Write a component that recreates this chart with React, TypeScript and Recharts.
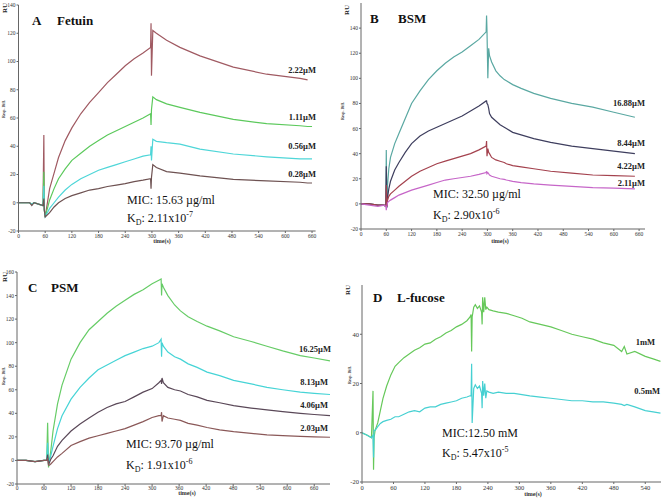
import React from 'react';
import { LineChart, Line, XAxis, YAxis } from 'recharts';

// ---------------- Panel A : Fetuin ----------------
const timeA = [0, 25, 30, 35, 55, 57, 58, 60, 70, 80, 90, 105, 120, 140, 160, 180, 200, 220, 240, 260, 280, 297, 298, 299, 302, 310, 333, 363, 408, 483, 558, 633, 650, 660];
const fetuin222 = [0, 0, -1, 0, -2, 48, -5, -10, 10, 21, 32, 44, 53, 63, 71, 78, 85, 91, 97, 102, 106, 110, 127, 90, 122, 120, 115, 110, 104, 96, 91, 88, 87, null];
const fetuin111 = [0, 0, -1, 0, -2, 22, -5, -10, 2, 10, 17, 24, 30, 35, 40, 44, 48, 51, 54, 57, 60, 63, 55, 66, 75, 73, 70, 67.5, 64, 59, 56, 54.5, 54, 54];
const fetuin056 = [0, 0, -1, 0, -2, 12, -5, -10, -4, 0, 4, 9, 13, 17, 20, 23, 25, 27, 29, 31, 33, 34, 40, 30, 45, 43.5, 42.5, 41.5, 38, 34.5, 32.5, 31, 31, 31];
const fetuin028 = [0, 0, -2, 0, -2, 3, -5, -10, -7, -3, 0, 3, 5, 7, 9, 10, 11.5, 12.5, 13.5, 15, 16, 17, 10, 18, 27, 25, 22, 21, 19, 16.5, 15.5, 14.5, 14, 14];
const labelsA = ['2.22\u00b5M', '1.11\u00b5M', '0.56\u00b5M', '0.28\u00b5M'];

// ---------------- Panel B : BSM ----------------
const timeB = [0, 20, 40, 55, 59, 60, 61, 62, 63, 66, 70, 80, 90, 105, 120, 140, 160, 180, 200, 220, 240, 260, 280, 297, 298, 299, 301, 303, 305, 310, 320, 330, 340, 345, 360, 380, 410, 450, 500, 550, 600, 650];
const bsm1688 = [0, 0, -1, -1, -2, 43, 10, -3, 15, 28, 37, 48, 56, 68, 80, 90, 99, 106, 112, 117, 121, 126, 131, 137, 150, 138, 100, 124, 118, 113, 106, 102, 99, 98, 95, 92, 88, 84, 80, 77, 73, 69];
const bsm844 = [0, 0, -1, -1, -2, 30, 5, -2, 5, 12, 18, 27, 33, 41, 48, 54, 58, 61, 64, 67, 70, 74, 78, 82, 82, 80, 79, 76, 72, 69, 66, 63, 61, 60, 57, 55, 52, 49, 46, 44, 42, 40];
const bsm422 = [0, 0, -1, -1, -2, 15, 2, -2, 3, 6, 8, 11, 14, 18, 22, 26, 29, 32, 34, 36, 38, 40, 43, 46, 50, 38, 44, 41, 40, 37, 35, 34, 33, 32, 30.5, 29.5, 28, 26, 24.5, 23, 22.5, 22];
const bsm211 = [0, -1, -2, -1, -2, -5, -2, -1, 1, 2, 3, 5, 7, 9, 11, 13, 15, 17, 19, 20, 21, 22, 23.5, 25, 26, 24, 25, 24, 23, 22, 21, 20, 19.5, 19, 18, 17, 16, 15, 14, 13, 12.5, 12];
const labelsB = ['16.88\u00b5M', '8.44\u00b5M', '4.22\u00b5M', '2.11\u00b5M'];

// ---------------- Panel C : PSM ----------------
const timeC = [0, 20, 40, 60, 66, 68, 70, 72, 75, 80, 90, 100, 120, 140, 160, 180, 200, 220, 240, 260, 280, 300, 315, 320, 321, 322, 325, 335, 350, 363, 380, 400, 422, 450, 481, 520, 555, 590, 629, 660, 695];
const psm1625 = [0, 0, -1, 0, 0, 32, -6, 0, 8, 25, 48, 64, 86, 100, 111, 118, 125, 131, 136, 141, 145, 150, 153, 154, 140, 150, 147, 140, 132, 127, 122, 118, 114, 110, 105, 101, 97, 93, 89, 87, 84.5];
const psm813 = [0, 0, -1, 0, 0, 15, -4, 0, 4, 12, 27, 38, 52, 62, 70, 77, 81, 85, 89, 92, 95, 97, 100, 103, 88, 100, 97, 92, 88, 86, 82, 79, 75, 72, 68, 65, 62, 60, 58, 57, 56];
const psm406 = [0, 0, -1, 0, 0, 5, -3, -2, 1, 4, 12, 17, 25, 31, 36, 41, 45, 48, 50, 54, 58, 61, 66, 68, 65, 70, 66, 62, 60, 59, 56, 54, 51, 49, 46.5, 44.5, 43, 41.5, 40, 39, 38];
const psm203 = [0, 0, -1, 0, 0, 2, -4, -4, -3, -1, 3, 6, 12.7, 16, 19, 21, 23, 25, 27, 30, 33, 36.5, 38, 38, 41, 33, 38, 36, 35, 34, 31.5, 30, 28, 26, 24.5, 23, 21.7, 21, 20.5, 20, 19.7];
const labelsC = ['16.25\u00b5M', '8.13\u00b5M', '4.06\u00b5M', '2.03\u00b5M'];

// ---------------- Panel D : L-fucose ----------------
const timeD = [0, 10, 18, 21, 22, 23, 25, 30, 35, 40, 47, 55, 63, 70, 80, 90, 100, 110, 120, 130, 140, 150, 160, 170, 180, 190, 200, 206, 208, 209, 210, 213, 216, 220, 224, 228, 229, 230, 232, 234, 236, 238, 242, 250, 260, 275, 290, 305, 320, 340, 360, 380, 400, 420, 440, 460, 480, 495, 500, 505, 520, 540, 555, 569];
const fucose1 = [0, -1, -2, 17, -15, -2, 1, 4, 9, 14, 19, 23.5, 27, 28.5, 30.5, 32, 33.5, 34.5, 36, 36.5, 38, 39, 40.5, 41.5, 43, 44, 45.5, 47, 48, 33, 47, 51, 52, 50.5, 51.5, 49, 44, 55, 49, 55, 50, 51, 50, 49.5, 49, 48.5, 47.5, 46.5, 45, 44, 43, 41.5, 40, 39, 38, 36.5, 35.5, 33, 35, 32, 33, 31, 30, 29];
const fucose05 = [0, -1, -2, -1, -10, 1, 1, 2.5, 3.8, 4.5, 5, 5.5, 6.5, 6.5, 7.5, 8.5, 9, 8.5, 10, 10.5, 10.5, 11.5, 12, 12.5, 13, 14, 14.5, 15, 15, 28, 4, 18, 19.5, 18, 19, 16, 10, 21, 15, 20, 14, 17, 16.5, 16, 16.5, 16, 16, 15.5, 15, 14.5, 14, 13.5, 13, 13, 12.5, 12.5, 12, 11.5, 11, 11.5, 10.5, 9, 8.5, 8];
const labelsD = ['1mM', '0.5mM'];

const ticks60 = [0, 60, 120, 180, 240, 300, 360, 420, 480, 540, 600, 660];
const ticksD_x = [0, 60, 120, 180, 240, 300, 360, 420, 480, 540];
const ticksA_y = [-20, 0, 20, 40, 60, 80, 100, 120, 140];
const ticksC_y = [-20, 0, 20, 40, 60, 80, 100, 120, 140, 160];
const ticksD_y = [-20, 0, 20, 40];

const FONT = '"Liberation Serif", "DejaVu Serif", serif';

type SeriesDef = { key: string; values: (number | null)[]; color: string };

function rows(time: number[], series: SeriesDef[]) {
  return time.map((t, i) => {
    const r: Record<string, number | null> = { t };
    series.forEach((s) => {
      r[s.key] = s.values[i];
    });
    return r;
  });
}

type PanelProps = {
  left: number;
  top: number;
  width: number;
  height: number;
  margin: { top: number; right: number; bottom: number; left: number };
  yWidth: number;
  xHeight: number;
  xDomain: [number, number];
  xTicks: number[];
  yDomain: [number, number];
  yTicks: number[];
  time: number[];
  series: SeriesDef[];
  fontSize: number;
  xTickMargin: number;
};

function Panel(p: PanelProps) {
  const data = rows(p.time, p.series);
  const tickStyle = { fontSize: p.fontSize, fill: '#333', fontFamily: FONT };
  return (
    <div style={{ position: 'absolute', left: p.left, top: p.top }}>
      <LineChart width={p.width} height={p.height} data={data} margin={p.margin}>
        <XAxis
          dataKey="t"
          type="number"
          domain={p.xDomain}
          allowDataOverflow
          ticks={p.xTicks}
          height={p.xHeight}
          tick={tickStyle}
          tickSize={2}
          tickMargin={p.xTickMargin}
          stroke="#666"
          interval={0}
        />
        <YAxis
          type="number"
          domain={p.yDomain}
          allowDataOverflow
          ticks={p.yTicks}
          width={p.yWidth}
          tick={tickStyle}
          tickSize={2}
          tickMargin={1}
          stroke="#666"
          interval={0}
        />
        {p.series.map((s) => (
          <Line
            key={s.key}
            dataKey={s.key}
            type="linear"
            stroke={s.color}
            strokeWidth={1.2}
            dot={false}
            activeDot={false}
            isAnimationActive={false}
          />
        ))}
      </LineChart>
    </div>
  );
}

function Kd({ x, y, value, exp }: { x: number; y: number; value: string; exp: string }) {
  return (
    <text x={x} y={y} fontSize={12} fontFamily={FONT} fill="#111">
      K<tspan dy={3} fontSize={8}>D</tspan>
      <tspan dy={-3}>{': ' + value + 'x10'}</tspan>
      <tspan dy={-5} fontSize={8}>{exp}</tspan>
    </text>
  );
}

function Conc({ x, y, text }: { x: number; y: number; text: string }) {
  return (
    <text x={x} y={y} fontSize={8.5} fontWeight="bold" fontFamily={FONT} fill="#222" textAnchor="end">
      {text}
    </text>
  );
}

function Title({ x1, x2, y, a, b }: { x1: number; x2: number; y: number; a: string; b: string }) {
  return (
    <g>
      <text x={x1} y={y} fontSize={13} fontWeight="bold" fontFamily={FONT} fill="#111">{a}</text>
      <text x={x2} y={y} fontSize={13} fontWeight="bold" fontFamily={FONT} fill="#111">{b}</text>
    </g>
  );
}

function AxisTexts({ rx, ry, dx, dy, tx, ty }: { rx: number; ry: number; dx: number; dy: number; tx: number; ty: number }) {
  return (
    <g>
      <text x={rx} y={ry} fontSize={7} fontWeight="bold" fontFamily={FONT} fill="#222" textAnchor="middle" transform={`rotate(-90 ${rx} ${ry})`} dominantBaseline="middle">RU</text>
      <text x={dx} y={dy} fontSize={4} fontWeight="bold" fontFamily={FONT} fill="#333" textAnchor="middle" transform={`rotate(-90 ${dx} ${dy})`} dominantBaseline="middle">Resp. Diff.</text>
      <text x={tx} y={ty} fontSize={6} fontWeight="bold" fontFamily={FONT} fill="#333" textAnchor="middle">time(s)</text>
    </g>
  );
}

export default function App() {
  const seriesA: SeriesDef[] = [
    { key: 'c222', values: fetuin222, color: '#a05a62' },
    { key: 'c111', values: fetuin111, color: '#5cc95c' },
    { key: 'c056', values: fetuin056, color: '#4fd6d8' },
    { key: 'c028', values: fetuin028, color: '#6e5252' },
  ];
  const seriesB: SeriesDef[] = [
    { key: 'c1688', values: bsm1688, color: '#5aa8a2' },
    { key: 'c844', values: bsm844, color: '#3e3e5e' },
    { key: 'c422', values: bsm422, color: '#a4424e' },
    { key: 'c211', values: bsm211, color: '#c666c8' },
  ];
  const seriesC: SeriesDef[] = [
    { key: 'c1625', values: psm1625, color: '#66cc66' },
    { key: 'c813', values: psm813, color: '#46d4d6' },
    { key: 'c406', values: psm406, color: '#5a4858' },
    { key: 'c203', values: psm203, color: '#8a5858' },
  ];
  const seriesD: SeriesDef[] = [
    { key: 'f1', values: fucose1, color: '#66c85a' },
    { key: 'f05', values: fucose05, color: '#46d0d2' },
  ];

  return (
    <div style={{ position: 'absolute', left: 0, top: 0, width: 661, height: 501, background: '#fff', overflow: 'hidden' }}>
      <Panel left={0} top={0} width={330} height={250} margin={{ top: 5, right: 14.4, bottom: 0, left: 0 }} yWidth={18.5} xHeight={19} xDomain={[0, 668]} xTicks={ticks60} yDomain={[-20, 140]} yTicks={ticksA_y} time={timeA} series={seriesA} fontSize={5.5} xTickMargin={1} />
      <Panel left={330} top={0} width={331} height={250} margin={{ top: 3, right: 16, bottom: 0, left: 0 }} yWidth={31} xHeight={21} xDomain={[0, 674]} xTicks={ticks60} yDomain={[-20, 160]} yTicks={ticksA_y} time={timeB} series={seriesB} fontSize={5.5} xTickMargin={1} />
      <Panel left={0} top={250} width={330} height={251} margin={{ top: 22, right: 0, bottom: 0, left: 0 }} yWidth={17} xHeight={17} xDomain={[0, 695]} xTicks={ticks60} yDomain={[-20, 160]} yTicks={ticksC_y} time={timeC} series={seriesC} fontSize={5.5} xTickMargin={0} />
      <Panel left={330} top={250} width={331} height={251} margin={{ top: 35, right: 0, bottom: 0, left: 0 }} yWidth={32} xHeight={19} xDomain={[0, 570]} xTicks={ticksD_x} yDomain={[-20, 60]} yTicks={ticksD_y} time={timeD} series={seriesD} fontSize={6.5} xTickMargin={1} />

      <svg width={661} height={501} style={{ position: 'absolute', left: 0, top: 0, pointerEvents: 'none' }}>
        {/* Panel A */}
        <Title x1={32} x2={57} y={25} a="A" b="Fetuin" />
        <AxisTexts rx={5} ry={8} dx={4} dy={109} tx={162} ty={243} />
        <Conc x={316} y={73} text={labelsA[0]} />
        <Conc x={316} y={120} text={labelsA[1]} />
        <Conc x={316} y={149} text={labelsA[2]} />
        <Conc x={316} y={177} text={labelsA[3]} />
        <text x={127} y={204} fontSize={12} fontFamily={FONT} fill="#111">MIC: 15.63 {'\u00b5'}g/ml</text>
        <Kd x={127} y={222} value="2.11" exp="-7" />

        {/* Panel B */}
        <Title x1={370} x2={398} y={23} a="B" b="BSM" />
        <AxisTexts rx={347} ry={10} dx={343} dy={111} tx={500} ty={243} />
        <Conc x={645} y={106} text={labelsB[0]} />
        <Conc x={645} y={146} text={labelsB[1]} />
        <Conc x={645} y={169} text={labelsB[2]} />
        <Conc x={645} y={186} text={labelsB[3]} />
        <text x={433} y={198} fontSize={12} fontFamily={FONT} fill="#111">MIC: 32.50 {'\u00b5'}g/ml</text>
        <Kd x={433} y={219} value="2.90" exp="-6" />

        {/* Panel C */}
        <Title x1={28} x2={51} y={292} a="C" b="PSM" />
        <AxisTexts rx={5} ry={277} dx={4} dy={376} tx={187} ty={495} />
        <Conc x={331} y={352} text={labelsC[0]} />
        <Conc x={328} y={385} text={labelsC[1]} />
        <Conc x={328} y={408} text={labelsC[2]} />
        <Conc x={328} y={431} text={labelsC[3]} />
        <text x={126} y={448} fontSize={12} fontFamily={FONT} fill="#111">MIC: 93.70 {'\u00b5'}g/ml</text>
        <Kd x={126} y={469} value="1.91" exp="-6" />

        {/* Panel D */}
        <Title x1={373} x2={397} y={302} a="D" b="L-fucose" />
        <AxisTexts rx={348} ry={290} dx={350} dy={375} tx={533} ty={496} />
        <Conc x={655} y={345} text={labelsD[0]} />
        <Conc x={660} y={394} text={labelsD[1]} />
        <text x={442} y={437} fontSize={12} fontFamily={FONT} fill="#111">MIC:12.50 mM</text>
        <Kd x={442} y={457} value="5.47" exp="-5" />
      </svg>
    </div>
  );
}
